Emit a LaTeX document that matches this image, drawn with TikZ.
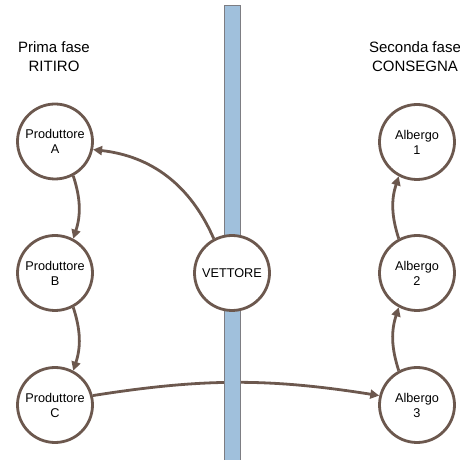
\documentclass[tikz,border=0pt]{standalone}
\usepackage{fontspec}
\setmainfont{Liberation Sans}
\usetikzlibrary{arrows.meta}
\definecolor{brn}{RGB}{108,88,78}
\definecolor{barblue}{RGB}{160,192,220}
\definecolor{bargrey}{RGB}{125,125,130}
\begin{document}
\begin{tikzpicture}[x=1pt,y=1pt,
  st/.style={circle, draw=brn, line width=2.8pt, fill=white, minimum size=75pt, inner sep=0pt, align=center, font=\fontsize{12.7}{15}\selectfont},
  conn/.style={draw=brn, line width=2.8pt, -{Triangle[length=9pt,width=9pt]}},
  lbl/.style={align=center, font=\fontsize{15}{19}\selectfont}]
\useasboundingbox (0,0) rectangle (459,460);
\clip (0,0) rectangle (459,460);
% nodes
\node[st] (A) at (55,318.5) {Produttore\\A};
\node[st] (B) at (55,187) {Produttore\\B};
\node[st] (C) at (55,55) {Produttore\\C};
\node[st] (H1) at (417,318) {Albergo\\1};
\node[st] (H2) at (417,187) {Albergo\\2};
\node[st] (H3) at (417,55) {Albergo\\3};
% long connector behind the bar
\draw[conn] (C.14) to[bend left=9] (H3.166);
% bar
\draw[fill=barblue, draw=bargrey, line width=1pt] (224,-3) rectangle (240,454);
\node[st] (V) at (232,187) {VETTORE};
% labels
\node[lbl] (L1) at (54,403) {Prima fase\\RITIRO};
\node[lbl] (L2) at (415,403) {Seconda fase\\CONSEGNA};
% connectors
\draw[conn] (V.118) to[bend right=30] (A.-12);
\draw[conn] (A.-62) to[bend left=18] (B.62);
\draw[conn] (B.-62) to[bend left=18] (C.62);
\draw[conn] (H3.118) to[bend left=18] (H2.-118);
\draw[conn] (H2.118) to[bend left=18] (H1.-118);
\end{tikzpicture}
\end{document}
